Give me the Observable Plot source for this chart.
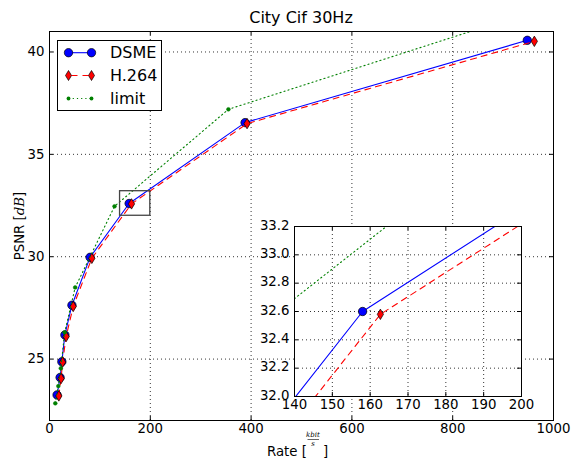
<!DOCTYPE html>
<html><head><meta charset="utf-8">
<script src="https://cdn.jsdelivr.net/npm/d3@7"></script>
<script src="https://cdn.jsdelivr.net/npm/@observablehq/plot@0.6"></script>
<style>
body{margin:0;background:#fff;}
#wrap{position:relative;width:573px;height:459px;}
#wrap svg{position:absolute;}
</style></head><body><div id="wrap"></div>
<script>
// ---- data ----
const seriesNames = ["DSME", "H.264", "limit"];
const rateDSME = [15, 21, 24.5, 30.5, 44.5, 80.5, 158, 388, 948];
const psnrDSME = [23.25, 24.1, 24.87, 26.18, 27.63, 29.97, 32.6, 36.55, 40.57];
const rateH264 = [18.5, 23, 26, 33, 47, 84, 162.7, 392, 962];
const psnrH264 = [23.2, 24.05, 24.85, 26.1, 27.57, 29.92, 32.58, 36.5, 40.52];
const rateLimit = [11.5, 17.5, 22.5, 30, 51, 129, 355, 955];
const psnrLimit = [22.84, 23.68, 24.55, 26.3, 28.5, 32.46, 37.2, 41.95];
const xTicks = [0, 200, 400, 600, 800, 1000];
const yTicks = [25, 30, 35, 40];
const insetXTicks = [140, 150, 160, 170, 180, 190, 200];
const insetYTicks = [32.0, 32.2, 32.4, 32.6, 32.8, 33.0, 33.2];
const zoomX = [140, 200];
const zoomY = [32.0, 33.2];
const titleText = "City Cif 30Hz";

const dsme = rateDSME.map((r, i) => ({rate: r, psnr: psnrDSME[i]}));
const h264 = rateH264.map((r, i) => ({rate: r, psnr: psnrH264[i]}));
const limit = rateLimit.map((r, i) => ({rate: r, psnr: psnrLimit[i]}));
const box = [{x1: zoomX[0], x2: zoomX[1], y1: zoomY[0], y2: zoomY[1]}];

const BLUE = "#0000ff", RED = "#ff0000", GREEN = "#008000";
const thinDiamond = {draw(ctx, size) {
  const s = Math.sqrt(size), h = s * 0.7, w = s * 0.42;
  ctx.moveTo(0, -h); ctx.lineTo(w, 0); ctx.lineTo(0, h); ctx.lineTo(-w, 0); ctx.closePath();
}};

function seriesMarks(clip) {
  return [
    Plot.line(dsme, {x: "rate", y: "psnr", stroke: BLUE, strokeWidth: 1.1, clip}),
    Plot.dot(dsme, {x: "rate", y: "psnr", r: 4.2, fill: BLUE, stroke: "black", strokeWidth: 0.7, clip}),
    Plot.line(h264, {x: "rate", y: "psnr", stroke: RED, strokeWidth: 1.1, strokeDasharray: "6,5", clip}),
    Plot.dot(h264, {x: "rate", y: "psnr", r: 4.2, symbol: thinDiamond, fill: RED, stroke: "black", strokeWidth: 0.7, clip}),
    Plot.line(limit, {x: "rate", y: "psnr", stroke: GREEN, strokeWidth: 1.1, strokeDasharray: "1.2,3", clip}),
    Plot.dot(limit, {x: "rate", y: "psnr", r: 1.9, fill: GREEN, stroke: GREEN, strokeWidth: 0.5, clip})
  ];
}

const font = {fontFamily: "'DejaVu Sans', sans-serif", fontSize: "13.3px", background: "transparent", overflow: "visible"};

// main chart: frame 49..553 x 31..420
const mW = 573, mH = 459, mL = 49, mR = 20, mT = 31, mB = 39;
const fw = mW - mL - mR, fh = mH - mT - mB;
const main = Plot.plot({
  width: mW, height: mH, marginLeft: mL, marginRight: mR, marginTop: mT, marginBottom: mB,
  style: font,
  x: {domain: [0, 1000]},
  y: {domain: [22, 41]},
  marks: [
    Plot.ruleX(xTicks, {stroke: "black", strokeDasharray: "1,3", strokeWidth: 0.8}),
    Plot.ruleY(yTicks, {stroke: "black", strokeDasharray: "1,3", strokeWidth: 0.8}),
    ...seriesMarks(true),
    Plot.rect(box, {x1: "x1", x2: "x2", y1: "y1", y2: "y2", fill: "none", stroke: "#444", strokeWidth: 1.3}),
    Plot.ruleX(xTicks, {stroke: "black", insetTop: fh - 4}),
    Plot.ruleX(xTicks, {stroke: "black", insetBottom: fh - 4}),
    Plot.ruleY(yTicks, {stroke: "black", insetLeft: fw - 4}),
    Plot.ruleY(yTicks, {stroke: "black", insetRight: fw - 4}),
    Plot.frame({stroke: "black", strokeWidth: 1}),
    Plot.axisX({ticks: xTicks, tickSize: 0, tickPadding: 3, label: null, tickFormat: d => String(d)}),
    Plot.axisY({ticks: yTicks, tickSize: 0, tickPadding: 5, label: null, tickFormat: d => String(d)})
  ]
});
main.style.left = "0px"; main.style.top = "0px";
document.getElementById("wrap").appendChild(main);

const ms = d3.select(main);
const SANS = "'DejaVu Sans', sans-serif", SERIF = "'DejaVu Serif', serif";
// title
ms.append("text").attr("x", 301).attr("y", 23).attr("text-anchor", "middle")
  .attr("font-size", 16).attr("font-family", SANS).attr("fill", "black").text(titleText);
// y label
const yl = ms.append("text").attr("transform", "translate(24,226) rotate(-90)").attr("text-anchor", "middle")
  .attr("font-size", 13.3).attr("font-family", SANS).attr("fill", "black");
yl.append("tspan").text("PSNR [");
yl.append("tspan").attr("font-family", SERIF).attr("font-style", "italic").text("dB");
yl.append("tspan").text("]");
// x label with fraction
const xg = ms.append("g").attr("fill", "black").attr("font-family", SANS);
xg.append("text").attr("x", 267).attr("y", 456).attr("text-anchor", "start").attr("font-size", 13.3).text("Rate [");
xg.append("text").attr("x", 313).attr("y", 437.3).attr("text-anchor", "middle").attr("font-size", 7)
  .attr("font-family", SERIF).attr("font-style", "italic").text("kbit");
xg.append("line").attr("x1", 307.5).attr("x2", 319).attr("y1", 439.5).attr("y2", 439.5).attr("stroke", "black").attr("stroke-width", 0.6);
xg.append("text").attr("x", 313).attr("y", 446).attr("text-anchor", "middle").attr("font-size", 7)
  .attr("font-family", SERIF).attr("font-style", "italic").text("s");
xg.append("text").attr("x", 323).attr("y", 456).attr("text-anchor", "start").attr("font-size", 13.3).text("]");

// legend
const lg = ms.append("g");
lg.append("rect").attr("x", 57.5).attr("y", 40.5).attr("width", 104).attr("height", 70)
  .attr("fill", "white").attr("stroke", "black").attr("stroke-width", 1);
const rowsY = [52.7, 75.5, 98.5];
const lx1 = 68.5, lx2 = 91.5;
seriesNames.forEach((name, i) => {
  const y = rowsY[i];
  const ln = lg.append("line").attr("x1", lx1).attr("x2", lx2).attr("y1", y).attr("y2", y).attr("stroke-width", 1.1);
  if (i === 0) ln.attr("stroke", BLUE);
  if (i === 1) ln.attr("stroke", RED).attr("stroke-dasharray", "6,5").attr("stroke-dashoffset", -3);
  if (i === 2) ln.attr("stroke", GREEN).attr("stroke-dasharray", "1.2,3");
  [lx1, lx2].forEach(x => {
    if (i === 0) lg.append("circle").attr("cx", x).attr("cy", y).attr("r", 4.2).attr("fill", BLUE).attr("stroke", "black").attr("stroke-width", 0.7);
    if (i === 1) lg.append("path").attr("d", `M${x},${y-5}L${x+3},${y}L${x},${y+5}L${x-3},${y}Z`).attr("fill", RED).attr("stroke", "black").attr("stroke-width", 0.7);
    if (i === 2) lg.append("circle").attr("cx", x).attr("cy", y).attr("r", 1.9).attr("fill", GREEN);
  });
  lg.append("text").attr("x", 110).attr("y", y).attr("dy", "0.36em").attr("text-anchor", "start").attr("font-size", 16)
    .attr("font-family", SANS).attr("fill", "black").text(name);
});

// inset: frame 294..521 x 226..396
const iLeft = 250, iTop = 215, iW = 290, iH = 210;
const iL = 44, iR = 19, iT = 11, iB = 29;
const ifw = iW - iL - iR, ifh = iH - iT - iB;
const inset = Plot.plot({
  width: iW, height: iH, marginLeft: iL, marginRight: iR, marginTop: iT, marginBottom: iB,
  style: font,
  x: {domain: zoomX},
  y: {domain: zoomY},
  marks: [
    Plot.frame({fill: "white", stroke: "black"}),
    Plot.ruleX(insetXTicks, {stroke: "black", strokeDasharray: "1,3", strokeWidth: 0.8}),
    Plot.ruleY(insetYTicks, {stroke: "black", strokeDasharray: "1,3", strokeWidth: 0.8}),
    ...seriesMarks(true),
    Plot.ruleX(insetXTicks, {stroke: "black", insetTop: ifh - 4}),
    Plot.ruleX(insetXTicks, {stroke: "black", insetBottom: ifh - 4}),
    Plot.ruleY(insetYTicks, {stroke: "black", insetLeft: ifw - 4}),
    Plot.ruleY(insetYTicks, {stroke: "black", insetRight: ifw - 4}),
    Plot.frame({stroke: "black", fill: "none"}),
    Plot.axisX({ticks: insetXTicks, tickSize: 0, tickPadding: 3, label: null, tickFormat: d => String(d)}),
    Plot.axisY({ticks: insetYTicks, tickSize: 0, tickPadding: 5, dy: -1, label: null, tickFormat: d3.format(".1f")})
  ]
});
inset.style.left = iLeft + "px"; inset.style.top = iTop + "px";
document.getElementById("wrap").appendChild(inset);
</script></body></html>
